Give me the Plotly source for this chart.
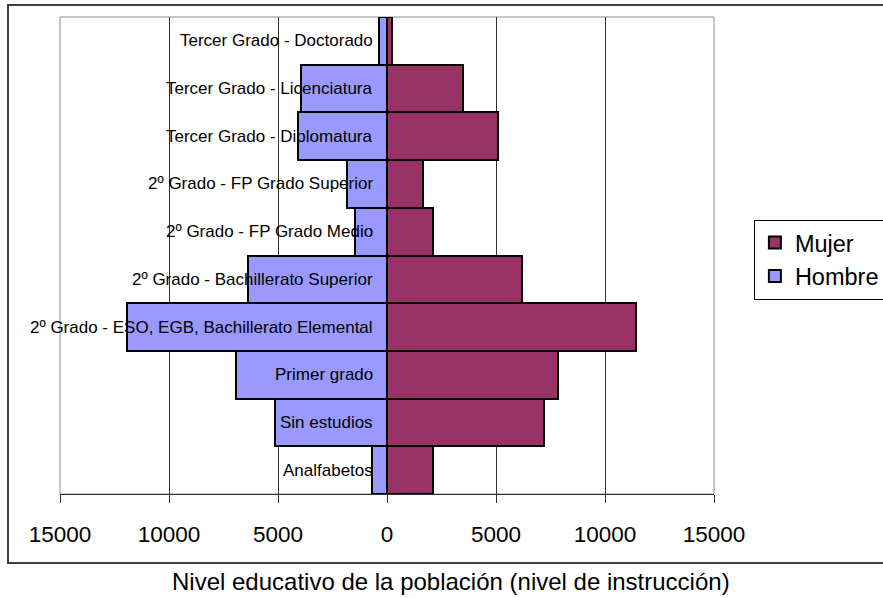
import plotly.graph_objects as go

# Education level categories, bottom to top
categorias = [
    "Analfabetos",
    "Sin estudios",
    "Primer grado",
    "2º Grado - ESO, EGB, Bachillerato Elemental",
    "2º Grado - Bachillerato Superior",
    "2º Grado - FP Grado Medio",
    "2º Grado - FP Grado Superior",
    "Tercer Grado - Diplomatura",
    "Tercer Grado - Licenciatura",
    "Tercer Grado - Doctorado",
]
mujer = [2130, 7190, 7840, 11440, 6210, 2130, 1640, 5080, 3470, 210]
hombre = [680, 5120, 6910, 11930, 6360, 1470, 1820, 4070, 3960, 350]

tick_vals = [-15000, -10000, -5000, 0, 5000, 10000, 15000]
tick_text = ["15000", "10000", "5000", "0", "5000", "10000", "15000"]

FONT = "Arial, Liberation Sans, sans-serif"

fig = go.Figure()
fig.add_trace(go.Bar(
    y=categorias, x=mujer, orientation="h", name="Mujer",
    marker=dict(color="#993366", line=dict(color="#000000", width=2)),
))
fig.add_trace(go.Bar(
    y=categorias, x=[-v for v in hombre], orientation="h", name="Hombre",
    marker=dict(color="#9999FF", line=dict(color="#000000", width=2)),
))

# Category labels drawn at the zero line, over the bars
for c in categorias:
    fig.add_annotation(
        x=0, y=c, xref="x", yref="y", text=c, showarrow=False,
        xanchor="right", yanchor="middle", xshift=-12,
        font=dict(family=FONT, size=17, color="#000000"),
    )

# Axis title below the chart frame
fig.add_annotation(
    x=0.598, y=-0.183, xref="paper", yref="paper",
    text="Nivel educativo de la población (nivel de instrucción)",
    showarrow=False, xanchor="center", yanchor="middle",
    font=dict(family=FONT, size=24, color="#000000"),
)

# Outer chart frame and plot-area border
fig.add_shape(type="rect", xref="paper", yref="paper",
              x0=-0.0795, x1=1.30, y0=-0.1447, y1=1.025,
              line=dict(color="#404040", width=2), layer="below")
fig.add_shape(type="rect", xref="paper", yref="paper",
              x0=0, x1=1, y0=0, y1=1,
              line=dict(color="#8c8c8c", width=1), layer="below")

fig.update_layout(
    width=883, height=598,
    margin=dict(l=60, r=169, t=17, b=104, autoexpand=False),
    paper_bgcolor="#ffffff", plot_bgcolor="#ffffff",
    barmode="relative", bargap=0,
    font=dict(family=FONT, color="#000000"),
    showlegend=True,
    legend=dict(
        x=1.061, y=0.575, xanchor="left", yanchor="top",
        bordercolor="#000000", borderwidth=1, bgcolor="#ffffff",
        font=dict(family=FONT, size=23.5, color="#000000"),
        traceorder="normal", itemclick=False, itemdoubleclick=False,
        tracegroupgap=0, itemwidth=30,
    ),
    xaxis=dict(
        range=[-15000, 15000], tickvals=tick_vals, ticktext=tick_text,
        showgrid=True, gridcolor="#333333", gridwidth=1,
        zeroline=False, showline=True, linecolor="#333333", linewidth=1,
        ticks="outside", ticklen=8, tickcolor="#333333",
        tickfont=dict(family=FONT, size=22.5, color="#000000"),
        ticklabelstandoff=12,
    ),
    yaxis=dict(
        categoryorder="array", categoryarray=categorias,
        showticklabels=False, showgrid=False, zeroline=False,
        showline=False, ticks="",
    ),
)

fig.write_html("out.html")
